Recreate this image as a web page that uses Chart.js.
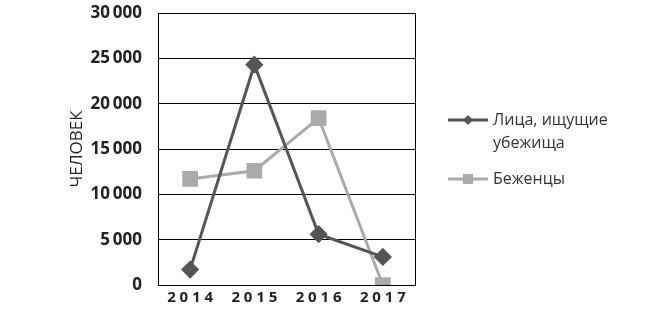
<!DOCTYPE html>
<html>
<head>
<meta charset="utf-8">
<script src="https://cdn.jsdelivr.net/npm/chart.js@4"></script>
<style>
  html, body { margin: 0; padding: 0; background: #fff; }
  #wrap { width: 651px; height: 321px; position: relative; }
</style>
</head>
<body>
<div id="wrap"><canvas id="chart"></canvas></div>
<script>
// data
const years = ['2014', '2015', '2016', '2017'];
const seekers = [1700, 24300, 5600, 3100];
const refugees = [11700, 12600, 18400, 0];
const seriesNames = [['Лица, ищущие', 'убежища'], ['Беженцы']];
const axisTitle = 'ЧЕЛОВЕК';

const font = "'Open Sans', sans-serif";

// frame around the plot + legend on the right, drawn on the canvas
const framePlugin = {
    id: 'frame',
    afterDraw(chart) {
        const { ctx, chartArea: a } = chart;
        ctx.save();
        ctx.strokeStyle = '#000';
        ctx.lineWidth = 1;
        ctx.strokeRect(Math.round(a.left) + 0.5, Math.round(a.top) + 0.5,
            Math.round(a.right - a.left), Math.round(a.bottom - a.top));

        // legend
        const items = [
            { color: '#555', style: 'rectRot', rows: seriesNames[0], y: 120 },
            { color: '#aaa', style: 'rect', rows: seriesNames[1], y: 179 }
        ];
        ctx.font = '16px ' + font;
        ctx.textBaseline = 'middle';
        items.forEach(it => {
            ctx.strokeStyle = it.color;
            ctx.lineWidth = 3;
            ctx.beginPath();
            ctx.moveTo(448, it.y);
            ctx.lineTo(488, it.y);
            ctx.stroke();
            ctx.fillStyle = it.color;
            if (it.style === 'rect') {
                ctx.fillRect(468 - 5, it.y - 5, 10, 10);
            } else {
                ctx.beginPath();
                ctx.moveTo(468, it.y - 5);
                ctx.lineTo(473, it.y);
                ctx.lineTo(468, it.y + 5);
                ctx.lineTo(463, it.y);
                ctx.closePath();
                ctx.fill();
            }
            ctx.fillStyle = '#333';
            it.rows.forEach((t, i) => ctx.fillText(t, 493, it.y + i * 23));
        });
        ctx.restore();
    }
};

new Chart(document.getElementById('chart'), {
    type: 'line',
    data: {
        labels: years,
        datasets: [{
            label: seriesNames[0].join(' '),
            data: seekers,
            borderColor: '#555',
            backgroundColor: '#555',
            borderWidth: 3,
            pointStyle: 'rectRot',
            pointRadius: 7,
            tension: 0
        }, {
            label: seriesNames[1].join(' '),
            data: refugees,
            borderColor: '#aaa',
            backgroundColor: '#aaa',
            borderWidth: 3,
            pointStyle: 'rect',
            pointRadius: 9,
            tension: 0
        }]
    },
    options: {
        responsive: true,
        maintainAspectRatio: false,
        animation: false,
        layout: { padding: { left: 61, right: 236, top: 13, bottom: 0 } },
        plugins: { legend: { display: false }, tooltip: { enabled: false } },
        scales: {
            x: {
                offset: true,
                grid: { display: false, drawTicks: false },
                border: { display: true, color: '#000' },
                afterFit: s => { s.height = 36; s.paddingLeft = 0; s.paddingRight = 0; },
                ticks: {
                    color: '#222',
                    padding: 4,
                    font: { family: font, size: 15, weight: 'bold' },
                    callback: (v, i) => years[i].split('').join(' ')
                }
            },
            y: {
                min: 0,
                max: 30000,
                border: { display: true, color: '#000' },
                grid: { color: '#000', drawTicks: false },
                afterFit: s => { s.width = 97; s.paddingTop = 0; s.paddingBottom = 0; },
                title: {
                    display: true,
                    text: axisTitle,
                    color: '#222',
                    font: { family: font, size: 17 },
                    padding: { top: 6, bottom: 2 }
                },
                ticks: {
                    stepSize: 5000,
                    color: '#222',
                    padding: 16,
                    font: { family: font, size: 17, weight: 'bold' },
                    callback: v => v === 0 ? '0' : Math.floor(v / 1000) + '\u2009000'
                }
            }
        }
    },
    plugins: [framePlugin]
});
</script>
</body>
</html>
